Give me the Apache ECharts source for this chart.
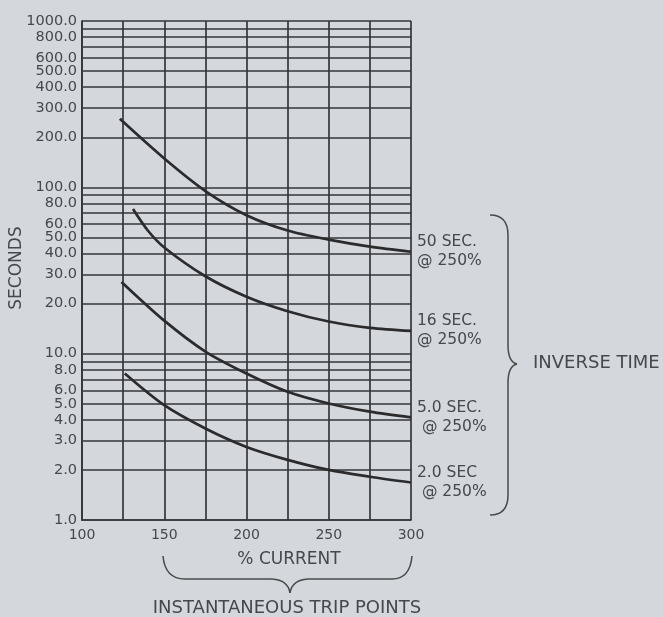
<!DOCTYPE html>
<html>
<head>
<meta charset="utf-8">
<script src="https://cdn.jsdelivr.net/npm/echarts@6/dist/echarts.min.js"></script>
<style>
html,body{margin:0;padding:0;background:#d4d7dc;}
#chart{width:663px;height:617px;}
</style>
</head>
<body>
<div id="chart"></div>
<script>
// Tick values / labels
const xMin = 100, xMax = 300, xStep = 25;
const xLabelValues = [100, 150, 200, 250, 300];
const yGridValues = [1,2,3,4,5,6,7,8,9,10,20,30,40,50,60,70,80,90,100,200,300,400,500,600,700,800,900,1000];
const yLabelValues = [1,2,3,4,5,6,8,10,20,30,40,50,60,80,100,200,300,400,500,600,800,1000];

// Curves: % current vs seconds
const curveLabels = ['50 SEC.\n@ 250%', '16 SEC.\n@ 250%', '5.0 SEC.\n @ 250%', '2.0 SEC\n @ 250%'];
const current50 = [123, 150, 175, 200, 225, 250, 275, 300];
const seconds50 = [258, 149, 95, 68, 55, 48.5, 44, 41];
const current16 = [131, 140, 150, 175, 200, 225, 250, 275, 300];
const seconds16 = [74, 55, 43.5, 29.2, 22, 18, 15.6, 14.3, 13.7];
const current5 = [124, 150, 175, 200, 225, 250, 275, 300];
const seconds5 = [27, 15.8, 10.3, 7.6, 5.9, 5.02, 4.48, 4.14];
const current2 = [126, 150, 175, 200, 225, 250, 275, 300];
const seconds2 = [7.6, 4.9, 3.55, 2.75, 2.3, 2.0, 1.82, 1.68];

const curves = [
  [current50, seconds50],
  [current16, seconds16],
  [current5, seconds5],
  [current2, seconds2]
];

const textColor = '#45484d';
const gridColor = '#35363a';
const font = 'DejaVu Sans';
const braceStyle = { fill: null, stroke: '#4a4a4a', lineWidth: 1.5 };

function seg(x1, y1, x2, y2) {
  return { type: 'line', shape: { x1, y1, x2, y2 }, style: braceStyle };
}
function curve(x1, y1, cx, cy, x2, y2) {
  return { type: 'bezierCurve', shape: { x1, y1, x2, y2, cpx1: cx, cpy1: cy }, style: braceStyle };
}

const chart = echarts.init(document.getElementById('chart'));

const series = curves.map((c, i) => ({
  type: 'line',
  name: curveLabels[i],
  data: c[0].map((x, k) => [x, c[1][k]]),
  smooth: 0.3,
  symbol: 'none',
  lineStyle: { color: '#2b2b2d', width: 2.7 },
  endLabel: {
    show: true,
    formatter: p => p.seriesName,
    color: textColor,
    fontFamily: font,
    fontSize: 15.5,
    lineHeight: 19,
    distance: 6,
    align: 'left'
  },
  animation: false
}));

chart.setOption({
  backgroundColor: '#d4d7dc',
  animation: false,
  grid: { left: 82, right: 252, top: 21, bottom: 97 },
  xAxis: {
    type: 'value',
    min: xMin, max: xMax, interval: xStep,
    axisLine: { show: true, lineStyle: { color: gridColor, width: 1.7 } },
    axisTick: { show: false },
    axisLabel: {
      formatter: v => (xLabelValues.indexOf(v) >= 0 ? String(v) : ''),
      color: textColor, fontFamily: font, fontSize: 14, margin: 8
    },
    splitLine: { show: true, lineStyle: { color: gridColor, width: 1.7 } }
  },
  yAxis: {
    type: 'log', logBase: 10, min: 1, max: 1000,
    axisLine: { show: true, lineStyle: { color: gridColor, width: 1.7 } },
    axisTick: { show: false, customValues: yGridValues },
    axisLabel: {
      customValues: yLabelValues,
      formatter: v => Number(v).toFixed(1),
      color: textColor, fontFamily: font, fontSize: 14.5, margin: 5
    },
    splitLine: { show: true, lineStyle: { color: gridColor, width: 1.5 } }
  },
  series: series,
  graphic: [
    {
      type: 'text', x: 17, y: 268, rotation: Math.PI / 2,
      style: { text: 'SECONDS', fill: textColor, font: '17px "DejaVu Sans"', textAlign: 'center', textVerticalAlign: 'middle' }
    },
    {
      type: 'group',
      children: [
        curve(490, 215, 508, 215, 508, 235),
        seg(508, 235, 508, 345),
        curve(508, 345, 508, 362, 517, 364),
        curve(517, 364, 508, 366, 508, 383),
        seg(508, 383, 508, 495),
        curve(508, 495, 508, 515, 490, 515)
      ]
    },
    {
      type: 'text', left: 533, top: 354,
      style: { text: 'INVERSE TIME', fill: textColor, font: '18px "DejaVu Sans"' }
    },
    {
      type: 'text', x: 289, y: 560,
      style: { text: '% CURRENT', fill: textColor, font: '17px "DejaVu Sans"', textAlign: 'center', textVerticalAlign: 'middle' }
    },
    {
      type: 'group',
      children: [
        curve(163, 556, 165, 579, 185, 579),
        seg(185, 579, 272, 579),
        curve(272, 579, 288, 580, 290, 593),
        curve(290, 593, 292, 580, 308, 579),
        seg(308, 579, 392, 579),
        curve(392, 579, 410, 579, 412, 556)
      ]
    },
    {
      type: 'text', x: 287, y: 608,
      style: { text: 'INSTANTANEOUS TRIP POINTS', fill: textColor, font: '18px "DejaVu Sans"', textAlign: 'center', textVerticalAlign: 'middle' }
    }
  ]
});
</script>
</body>
</html>
